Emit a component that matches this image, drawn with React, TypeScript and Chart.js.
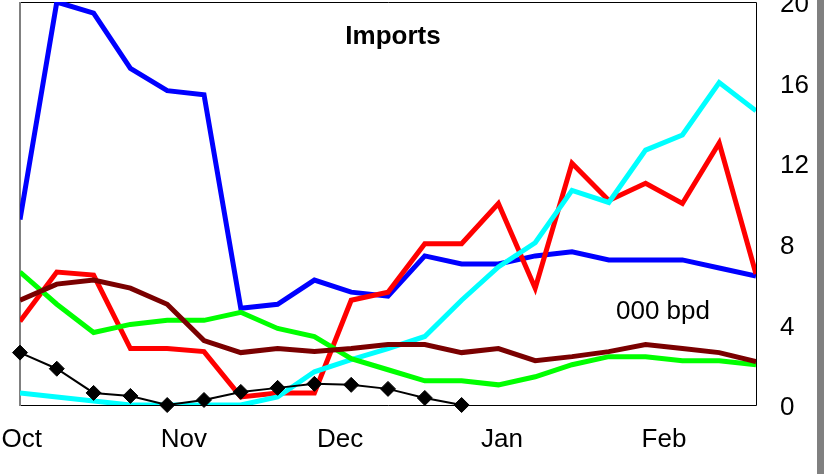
import React, { useEffect, useRef } from "react";
import { Chart, registerables } from "chart.js";

Chart.register(...registerables);

const weeks = [0, 1, 2, 3, 4, 5, 6, 7, 8, 9, 10, 11, 12, 13, 14, 15, 16, 17, 18, 19, 20];
const monthLabels = ["Oct", "Nov", "Dec", "Jan", "Feb"];
const monthTickWeeks = [0.05, 4.45, 8.7, 13.1, 17.5];
const yTicks = [0, 4, 8, 12, 16, 20];

const blueValues = [9.2, 20, 19.45, 16.7, 15.6, 15.4, 4.8, 5.0, 6.2, 5.6, 5.4, 7.4, 7.0, 7.0, 7.4, 7.6, 7.2, 7.2, 7.2, 6.8, 6.4];
const redValues = [4.15, 6.6, 6.45, 2.8, 2.8, 2.65, 0.4, 0.6, 0.6, 5.2, 5.6, 8.0, 8.0, 10.0, 5.8, 12.0, 10.15, 11.0, 10.0, 13.0, 6.5];
const greenValues = [6.6, 5.0, 3.6, 4.0, 4.2, 4.2, 4.6, 3.8, 3.4, 2.3, 1.75, 1.2, 1.2, 1.0, 1.4, 2.0, 2.4, 2.4, 2.2, 2.2, 2.0];
const maroonValues = [5.2, 6.0, 6.2, 5.8, 5.0, 3.2, 2.6, 2.8, 2.65, 2.8, 3.0, 3.0, 2.6, 2.8, 2.2, 2.4, 2.65, 3.0, 2.8, 2.6, 2.15];
const cyanValues = [0.6, 0.4, 0.2, 0, 0, 0, 0, 0.4, 1.65, 2.25, 2.8, 3.4, 5.2, 6.85, 8.05, 10.65, 10.05, 12.65, 13.4, 16.0, 14.6];
const blackValues: (number | null)[] = [2.6, 1.8, 0.6, 0.45, 0, 0.25, 0.65, 0.85, 1.05, 1.0, 0.8, 0.35, 0, null, null, null, null, null, null, null, null];

const FONT = "'Liberation Sans', Arial, Helvetica, sans-serif";

const toPoints = (vals: (number | null)[]) => weeks.map((w, i) => ({ x: w, y: vals[i] }));

const zeroPad = (s: any) => {
  s.paddingLeft = 0;
  s.paddingRight = 0;
  s.paddingTop = 0;
  s.paddingBottom = 0;
};

const decorPlugin = {
  id: "decor",
  beforeDatasetsDraw(chart: any) {
    const { ctx, chartArea } = chart;
    const { left, top, right, bottom } = chartArea;
    ctx.save();
    ctx.strokeStyle = "#000";
    ctx.lineWidth = 1;
    ctx.beginPath();
    ctx.moveTo(left, top + 0.5);
    ctx.lineTo(right + 0.5, top + 0.5);
    ctx.lineTo(right + 0.5, bottom + 0.5);
    ctx.lineTo(left, bottom + 0.5);
    ctx.stroke();
    ctx.strokeStyle = "#808080";
    ctx.lineWidth = 2;
    ctx.beginPath();
    ctx.moveTo(left, top);
    ctx.lineTo(left, bottom + 1);
    ctx.stroke();
    ctx.restore();
  },
  afterDraw(chart: any) {
    const { ctx, chartArea, width, height } = chart;
    ctx.save();
    ctx.fillStyle = "#808080";
    ctx.fillRect(width - 7, 0, 7, height);
    ctx.fillStyle = "#000";
    ctx.textBaseline = "alphabetic";
    ctx.font = `bold 26px ${FONT}`;
    ctx.textAlign = "center";
    ctx.fillText("Imports", chartArea.left + 373, chartArea.top + 42);
    ctx.font = `26px ${FONT}`;
    ctx.textAlign = "left";
    ctx.fillText("000 bpd", chartArea.left + 596, chartArea.top + 317);
    ctx.restore();
  },
};

export default function App() {
  const ref = useRef<HTMLCanvasElement | null>(null);

  useEffect(() => {
    document.body.style.margin = "0";
    const canvas = ref.current;
    if (!canvas) return;
    const line = (label: string, vals: (number | null)[], color: string, width: number) => ({
      label,
      data: toPoints(vals),
      borderColor: color,
      backgroundColor: color,
      borderWidth: width,
      pointRadius: 0,
      tension: 0,
      spanGaps: false,
    });
    const chart = new Chart(canvas, {
      type: "line",
      data: {
        datasets: [
          {
            ...line("black", blackValues, "#000000", 2),
            pointRadius: 7.5,
            pointStyle: "rectRot",
            pointBackgroundColor: "#000000",
            pointBorderColor: "#000000",
            pointBorderWidth: 1,
            clip: false,
          } as any,
          line("maroon", maroonValues, "#7a0000", 5),
          line("green", greenValues, "#00ff00", 5),
          line("cyan", cyanValues, "#00ffff", 5),
          line("red", redValues, "#ff0000", 5),
          line("blue", blueValues, "#0000ff", 5),
        ],
      },
      options: {
        animation: false,
        responsive: false,
        devicePixelRatio: 1,
        layout: { autoPadding: false, padding: { left: 20, top: 2, right: 0, bottom: 0 } } as any,
        plugins: {
          legend: { display: false },
          tooltip: { enabled: false },
          title: { display: false },
        },
        scales: {
          x: {
            type: "linear",
            min: 0,
            max: 20,
            grid: { display: false, drawTicks: false },
            border: { display: false },
            afterFit: (s: any) => {
              s.height = 69;
              zeroPad(s);
            },
            afterBuildTicks: (s: any) => {
              s.ticks = monthTickWeeks.map((v) => ({ value: v }));
            },
            ticks: {
              autoSkip: false,
              maxRotation: 0,
              padding: 19,
              color: "#000",
              font: { family: FONT, size: 26 },
              callback: (_v: any, i: number) => monthLabels[i],
            },
          },
          y: {
            type: "linear",
            position: "right",
            min: 0,
            max: 20,
            grid: { display: false, drawTicks: false },
            border: { display: false },
            afterFit: (s: any) => {
              s.width = 68;
              zeroPad(s);
            },
            afterBuildTicks: (s: any) => {
              s.ticks = yTicks.map((v) => ({ value: v }));
            },
            ticks: {
              padding: 24,
              labelOffset: 3,
              color: "#000",
              font: { family: FONT, size: 26 },
            },
          },
        },
      },
      plugins: [decorPlugin],
    });
    return () => chart.destroy();
  }, []);

  return (
    <div style={{ position: "absolute", left: 0, top: 0, width: 824, height: 474, background: "#fff" }}>
      <canvas ref={ref} width={824} height={474} style={{ display: "block" }} />
    </div>
  );
}
